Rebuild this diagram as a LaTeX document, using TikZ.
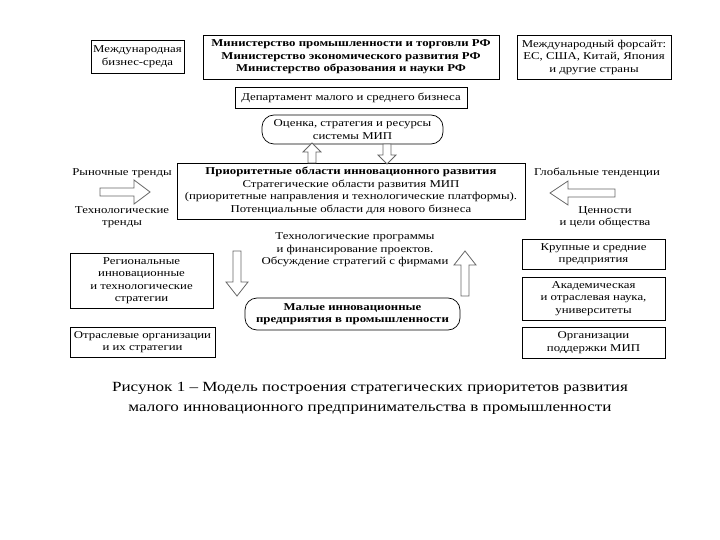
\documentclass[tikz,border=0pt]{standalone}
\usepackage{fontspec}
\setmainfont[FakeStretch=1.22]{Liberation Serif}
\newcommand{\blkarrow}[7]{%
  \draw[blockar,shift={(#1,#2)},rotate=#3]
    (0,-#6)--(#4-#5,-#6)--(#4-#5,-#7)--(#4,0)--(#4-#5,#7)--(#4-#5,#6)--(0,#6)--cycle;}
\tikzset{
  box/.style={draw=black,line width=0.9pt,align=center,inner sep=1pt,font=\fontsize{10.5}{12.5}\selectfont},
  rbox/.style={box,rounded corners=12pt,line width=0.7pt},
  lbl/.style={align=center,inner sep=0pt,font=\fontsize{10.5}{12.5}\selectfont},
  blockar/.style={draw=black!60,fill=white,line width=0.8pt,line join=miter}
}
\begin{document}
\begin{tikzpicture}[x=1pt,y=-1pt]
\useasboundingbox (0,0) rectangle (720,540);
% top row
\node[box,minimum width=93pt,minimum height=33pt] (intl) at (137.5,56.5) {Международная\\бизнес-среда};
\node[box,minimum width=296pt,minimum height=44pt,font=\fontsize{10.5}{12.5}\selectfont\bfseries] (mins) at (351,57)
  {Министерство промышленности и торговли РФ\\Министерство экономического развития РФ\\Министерство образования и науки РФ};
\node[box,minimum width=154pt,minimum height=44pt] (fore) at (594,57)
  {Международный форсайт:\\ЕС, США, Китай, Япония\\и другие страны};
\node[box,minimum width=232pt,minimum height=21pt] (dept) at (351,97.5) {Департамент малого и среднего бизнеса};
\node[rbox,minimum width=181pt,minimum height=29pt] (eval) at (352.5,129.5) {Оценка, стратегия и ресурсы\\системы МИП};
% main
\node[box,minimum width=348pt,minimum height=56pt] (main) at (351,191)
  {\textbf{Приоритетные области инновационного развития}\\Стратегические области развития МИП\\(приоритетные направления и технологические платформы).\\Потенциальные области для нового бизнеса};
% side labels
\node[lbl] (mkt) at (122,173) {Рыночные тренды};
\node[lbl] (tech) at (122,217) {Технологические\\тренды};
\node[lbl] (glob) at (597,173) {Глобальные тенденции};
\node[lbl] (val) at (605,217) {Ценности\\и цели общества};
% block arrows
\blkarrow{100}{192}{0}{50}{16}{4}{12}
\blkarrow{615}{193}{180}{65}{18}{4}{12}
\blkarrow{312}{163}{90}{20}{9}{4}{9}
\blkarrow{387}{144}{270}{20}{9}{4}{9}
\blkarrow{237}{251}{270}{45}{14}{4}{11}
\blkarrow{465}{296}{90}{45}{14}{4}{11}
% lower left
\node[box,minimum width=143pt,minimum height=55pt] (reg) at (141.5,280.5)
  {Региональные\\инновационные\\и технологические\\стратегии};
\node[box,minimum width=145pt,minimum height=30pt] (otr) at (142.5,342)
  {Отраслевые организации\\и их стратегии};
% center lower
\node[lbl] (prog) at (355,250)
  {Технологические программы\\и финансирование проектов.\\Обсуждение стратегий с фирмами};
\node[rbox,minimum width=215pt,minimum height=32pt,font=\fontsize{10.5}{12.5}\selectfont\bfseries] (small) at (352.5,314)
  {Малые инновационные\\предприятия в промышленности};
% right column
\node[box,minimum width=143pt,minimum height=30pt] (big) at (593.5,254) {Крупные и средние\\предприятия};
\node[box,minimum width=143pt,minimum height=43pt] (acad) at (593.5,298.5) {Академическая\\и отраслевая наука,\\университеты};
\node[box,minimum width=143pt,minimum height=31pt] (supp) at (593.5,342.5) {Организации\\поддержки МИП};
% caption
\node[lbl,font=\fontsize{14}{20}\selectfont] (cap) at (370,398)
  {Рисунок 1 – Модель построения стратегических приоритетов развития\\малого инновационного предпринимательства в промышленности};
\end{tikzpicture}
\end{document}
